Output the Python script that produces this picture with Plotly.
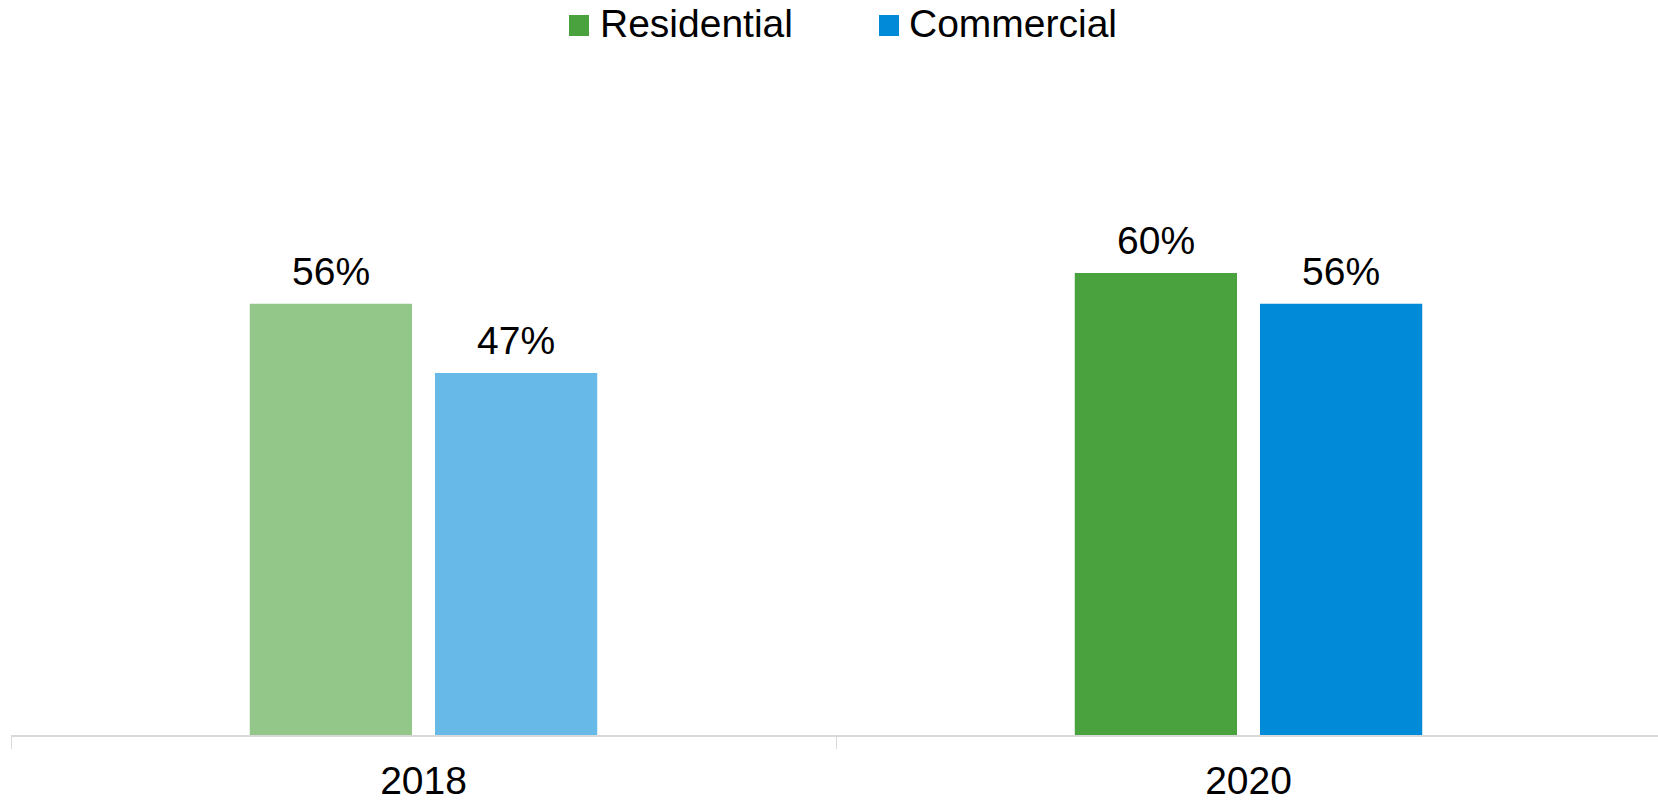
import plotly.graph_objects as go

# Share of customers by year and segment
years = ["2018", "2020"]
residential = [0.56, 0.60]
commercial = [0.47, 0.56]
series_names = ["Residential", "Commercial"]

# 2018 bars are drawn in a lighter tint of the series colour
residential_colors = ["#93C78A", "#4AA23F"]
commercial_colors = ["#67B9E8", "#008AD8"]
legend_colors = ["#4AA23F", "#008AD8"]

FONT = "Liberation Sans, Arial, sans-serif"
FS = 39
W, H = 1658, 803
ML, MR, MT, MB = 11, 0, 119, 68
PW, PH = W - ML - MR, H - MT - MB
BARGAP, BARGROUPGAP = 0.551, 0.124
CAT_PX = 825  # width of one category band; the last band runs slightly past the edge
X_RANGE = [-0.5, PW / CAT_PX - 0.5]


def paper_x(px):
    return (px - ML) / PW


def paper_y(py):
    return (H - MB - py) / PH


fig = go.Figure()
series = [
    (series_names[0], residential, residential_colors),
    (series_names[1], commercial, commercial_colors),
]
for name, vals, cols in series:
    fig.add_trace(go.Bar(
        name=name,
        x=years,
        y=vals,
        marker=dict(color=cols, line=dict(width=0)),
        showlegend=False,
    ))

# Value labels above each bar, offset to the centre of its slot in the group
slot_px = CAT_PX * (1 - BARGAP) / len(series)
annotations = []
for i, (name, vals, _) in enumerate(series):
    shift = (i - (len(series) - 1) / 2) * slot_px
    for j, v in enumerate(vals):
        annotations.append(dict(
            x=j, y=v, xref="x", yref="y",
            xanchor="center", yanchor="bottom",
            xshift=shift, yshift=9,
            text=f"{round(v * 100)}%", showarrow=False,
            font=dict(family=FONT, size=FS, color="#000000"),
        ))

# Legend drawn as swatches + labels across the top
legend_items = [
    (series_names[0], legend_colors[0], 569, 600),
    (series_names[1], legend_colors[1], 879, 909),
]
shapes = []
for label, color, sx, tx in legend_items:
    shapes.append(dict(
        type="rect", xref="paper", yref="paper",
        x0=paper_x(sx), x1=paper_x(sx + 20),
        y0=paper_y(36), y1=paper_y(15),
        fillcolor=color, line=dict(width=0),
    ))
    annotations.append(dict(
        xref="paper", yref="paper",
        x=paper_x(tx - 2), y=paper_y(24),
        xanchor="left", yanchor="middle",
        text=label, showarrow=False,
        font=dict(family=FONT, size=FS, color="#000000"),
    ))

fig.update_layout(
    width=W, height=H,
    margin=dict(l=ML, r=MR, t=MT, b=MB, pad=0),
    paper_bgcolor="#ffffff",
    plot_bgcolor="#ffffff",
    barmode="group",
    bargap=BARGAP,
    bargroupgap=BARGROUPGAP,
    shapes=shapes,
    annotations=annotations,
    font=dict(family=FONT, size=FS, color="#000000"),
    xaxis=dict(
        type="category", range=X_RANGE,
        showline=True, linecolor="#d9d9d9", linewidth=1.5,
        ticks="outside", tickson="boundaries", ticklen=12,
        tickcolor="#d9d9d9", tickwidth=1,
        tickangle=0, ticklabelstandoff=10,
        tickfont=dict(family=FONT, size=FS, color="#000000"),
        showgrid=False, zeroline=False, automargin=False,
    ),
    yaxis=dict(
        range=[0, 0.8], visible=False, showgrid=False, zeroline=False,
    ),
)

fig.write_html("out.html")
